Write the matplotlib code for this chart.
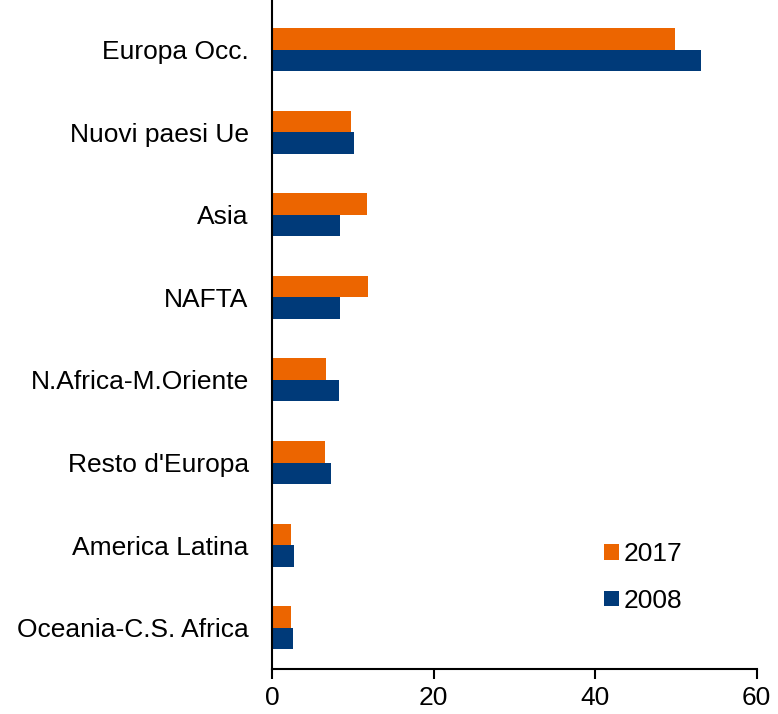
import numpy as np
import matplotlib.pyplot as plt

plt.rcParams['font.family'] = ['Liberation Sans', 'DejaVu Sans']

# Aree di destinazione (dall'alto verso il basso)
categorie = ['Europa Occ.', 'Nuovi paesi Ue', 'Asia', 'NAFTA',
             'N.Africa-M.Oriente', "Resto d'Europa", 'America Latina',
             'Oceania-C.S. Africa']
valori_2017 = [49.9, 9.8, 11.7, 11.8, 6.6, 6.5, 2.3, 2.3]
valori_2008 = [53.1, 10.1, 8.4, 8.4, 8.3, 7.3, 2.7, 2.6]
anni = ['2017', '2008']
x_ticks = [0, 20, 40, 60]

arancio = '#EC6500'
blu = '#003A79'

fig = plt.figure(figsize=(7.78, 7.14), dpi=100)
ax = fig.add_axes([0.350, 0.063, 0.6226, 0.937])

y = np.arange(len(categorie))
h = 0.26
ax.barh(y - h / 2, valori_2017, height=h, color=arancio, label=anni[0])
ax.barh(y + h / 2, valori_2008, height=h, color=blu, label=anni[1])

ax.set_ylim(len(categorie) - 0.5, -0.6)
ax.set_xlim(0, 60)
ax.set_xticks(x_ticks)
ax.set_yticks(y)
ax.set_yticklabels(categorie)

for lato in ['top', 'right']:
    ax.spines[lato].set_visible(False)
ax.spines['left'].set_linewidth(1.5)
ax.spines['bottom'].set_linewidth(1.5)
ax.tick_params(axis='y', length=0, pad=17, labelsize=19)
ax.tick_params(axis='x', length=7, width=1.5, direction='out', pad=5, labelsize=19)

ax.legend(loc='upper left', bbox_to_anchor=(0.663, 0.205), frameon=False,
          fontsize=19, handlelength=0.55, handleheight=0.55,
          handletextpad=0.2, labelspacing=0.85, borderaxespad=0)

fig.savefig('out.png', dpi=100)
